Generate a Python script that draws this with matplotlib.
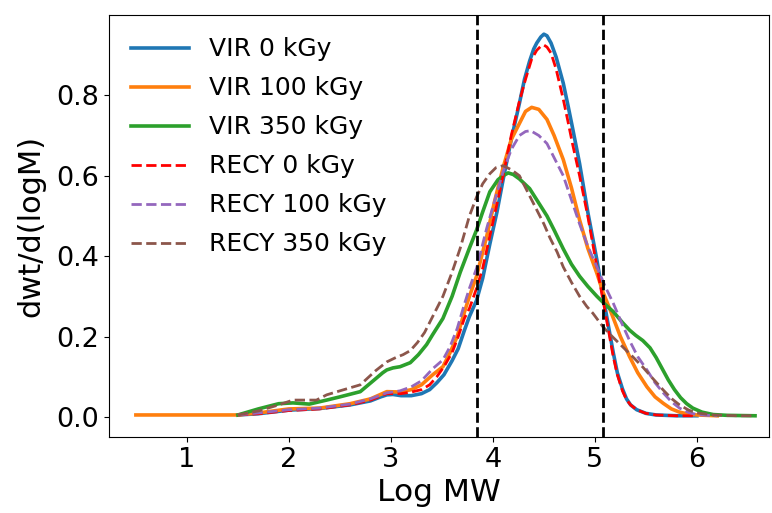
import matplotlib
matplotlib.use("Agg")
import matplotlib.pyplot as plt

# VIR 0 kGy
vir0_x = [1.5, 1.7, 2.0, 2.3, 2.6, 2.8, 2.9, 2.96, 3.02, 3.1, 3.2, 3.3, 3.38, 3.45, 3.52,
          3.6, 3.66, 3.72, 3.77, 3.84, 3.9, 3.97, 4.04, 4.1, 4.18, 4.26, 4.31, 4.36, 4.4,
          4.43, 4.47, 4.5, 4.53, 4.57, 4.62, 4.69, 4.74, 4.78, 4.85, 4.93, 5.02, 5.08,
          5.13, 5.18, 5.22, 5.27, 5.31, 5.35, 5.41, 5.5, 5.6, 5.8, 6.0]
vir0_y = [0.005, 0.008, 0.017, 0.021, 0.03, 0.04, 0.05, 0.055, 0.056, 0.053, 0.053,
          0.058, 0.068, 0.085, 0.105, 0.14, 0.17, 0.215, 0.25, 0.29, 0.345, 0.43, 0.51,
          0.59, 0.69, 0.78, 0.84, 0.885, 0.915, 0.93, 0.945, 0.952, 0.948, 0.93, 0.895,
          0.83, 0.77, 0.72, 0.63, 0.51, 0.39, 0.30, 0.23, 0.16, 0.11, 0.07, 0.045, 0.03,
          0.018, 0.009, 0.005, 0.003, 0.003]

# VIR 100 kGy
vir100_x = [0.5, 1.0, 1.5, 1.7, 2.0, 2.3, 2.6, 2.8, 2.96, 3.09, 3.2, 3.3, 3.41, 3.51,
            3.58, 3.65, 3.72, 3.77, 3.84, 3.94, 4.02, 4.1, 4.18, 4.26, 4.32, 4.38, 4.45,
            4.53, 4.6, 4.69, 4.77, 4.85, 4.93, 5.02, 5.08, 5.15, 5.25, 5.34, 5.42, 5.51,
            5.59, 5.67, 5.75, 5.83, 5.92, 6.0, 6.2]
vir100_y = [0.005, 0.005, 0.005, 0.01, 0.02, 0.022, 0.033, 0.045, 0.063, 0.062, 0.068,
            0.08, 0.105, 0.125, 0.16, 0.2, 0.26, 0.30, 0.35, 0.45, 0.54, 0.62, 0.69,
            0.73, 0.76, 0.77, 0.765, 0.74, 0.70, 0.64, 0.57, 0.49, 0.42, 0.357, 0.31,
            0.266, 0.2, 0.15, 0.11, 0.075, 0.05, 0.034, 0.02, 0.012, 0.007, 0.005, 0.003]

# VIR 350 kGy
vir350_x = [1.5, 1.7, 1.9, 2.04, 2.2, 2.37, 2.5, 2.7, 2.85, 2.92, 2.96, 3.02, 3.09, 3.19,
            3.27, 3.35, 3.41, 3.51, 3.6, 3.68, 3.77, 3.84, 3.9, 3.97, 4.05, 4.1, 4.15,
            4.2, 4.26, 4.36, 4.43, 4.53, 4.6, 4.69, 4.77, 4.85, 4.93, 5.02, 5.1, 5.18,
            5.27, 5.34, 5.4, 5.47, 5.54, 5.6, 5.66, 5.72, 5.78, 5.84, 5.9, 5.96, 6.05,
            6.16, 6.3, 6.57]
vir350_y = [0.005, 0.02, 0.033, 0.035, 0.032, 0.042, 0.05, 0.063, 0.095, 0.11, 0.117,
            0.122, 0.125, 0.135, 0.155, 0.18, 0.205, 0.245, 0.3, 0.36, 0.42, 0.465, 0.51,
            0.56, 0.59, 0.60, 0.607, 0.603, 0.592, 0.568, 0.54, 0.50, 0.465, 0.418, 0.38,
            0.35, 0.325, 0.30, 0.28, 0.262, 0.235, 0.216, 0.203, 0.19, 0.172, 0.148,
            0.12, 0.092, 0.068, 0.048, 0.033, 0.022, 0.012, 0.006, 0.004, 0.003]

# RECY 0 kGy
recy0_x = [1.5, 1.7, 2.0, 2.3, 2.6, 2.8, 2.96, 3.1, 3.2, 3.3, 3.38, 3.45, 3.52, 3.6,
           3.66, 3.72, 3.77, 3.84, 3.9, 3.97, 4.04, 4.1, 4.18, 4.26, 4.32, 4.38, 4.43,
           4.47, 4.5, 4.53, 4.57, 4.62, 4.69, 4.74, 4.78, 4.85, 4.93, 5.02, 5.08, 5.13,
           5.18, 5.22, 5.27, 5.31, 5.35, 5.41, 5.5, 5.6, 5.8, 6.0]
recy0_y = [0.005, 0.008, 0.016, 0.02, 0.03, 0.042, 0.058, 0.058, 0.062, 0.068, 0.08,
           0.1, 0.125, 0.16, 0.2, 0.245, 0.27, 0.32, 0.37, 0.45, 0.53, 0.60, 0.70, 0.785,
           0.84, 0.89, 0.912, 0.922, 0.925, 0.92, 0.905, 0.865, 0.79, 0.73, 0.68, 0.60,
           0.50, 0.373, 0.29, 0.22, 0.15, 0.105, 0.065, 0.043, 0.03, 0.018, 0.009,
           0.005, 0.003, 0.003]

# RECY 100 kGy
recy100_x = [1.5, 1.7, 2.0, 2.3, 2.6, 2.8, 2.96, 3.09, 3.2, 3.3, 3.41, 3.51, 3.58, 3.65,
             3.72, 3.77, 3.84, 3.94, 4.02, 4.1, 4.18, 4.26, 4.32, 4.37, 4.45, 4.53, 4.6,
             4.69, 4.77, 4.85, 4.93, 5.02, 5.1, 5.18, 5.26, 5.34, 5.42, 5.51, 5.59, 5.67,
             5.75, 5.83, 5.92, 6.0, 6.1, 6.2]
recy100_y = [0.005, 0.01, 0.018, 0.022, 0.032, 0.045, 0.06, 0.065, 0.075, 0.09, 0.12,
             0.142, 0.175, 0.22, 0.28, 0.32, 0.37, 0.47, 0.54, 0.61, 0.665, 0.70, 0.71,
             0.712, 0.70, 0.68, 0.645, 0.60, 0.54, 0.48, 0.425, 0.373, 0.325, 0.283,
             0.235, 0.19, 0.15, 0.117, 0.085, 0.06, 0.038, 0.022, 0.011, 0.006, 0.004,
             0.003]

# RECY 350 kGy
recy350_x = [1.5, 1.7, 1.9, 2.04, 2.27, 2.37, 2.5, 2.7, 2.85, 2.96, 3.05, 3.12, 3.19,
             3.26, 3.33, 3.41, 3.51, 3.6, 3.68, 3.77, 3.84, 3.9, 3.97, 4.03, 4.1, 4.18,
             4.26, 4.34, 4.43, 4.5, 4.56, 4.63, 4.69, 4.77, 4.85, 4.92, 4.98, 5.08, 5.17,
             5.27, 5.37, 5.47, 5.57, 5.67, 5.75, 5.83, 5.92, 6.0, 6.16, 6.4, 6.55]
recy350_y = [0.005, 0.015, 0.03, 0.042, 0.042, 0.055, 0.065, 0.08, 0.115, 0.137, 0.148,
             0.155, 0.165, 0.185, 0.21, 0.25, 0.30, 0.36, 0.42, 0.50, 0.547, 0.58, 0.605,
             0.62, 0.625, 0.615, 0.60, 0.56, 0.515, 0.48, 0.445, 0.41, 0.373, 0.335, 0.30,
             0.275, 0.258, 0.224, 0.20, 0.175, 0.15, 0.124, 0.095, 0.067, 0.046, 0.03,
             0.017, 0.01, 0.005, 0.003, 0.003]

# integration limits
limits = [3.84, 5.075]

fig, ax = plt.subplots(figsize=(7.72, 5.13), dpi=100)
fig.subplots_adjust(left=0.141, right=0.996, top=0.971, bottom=0.148)

ax.plot(vir0_x, vir0_y, color="#1f77b4", lw=2.6, label="VIR 0 kGy")
ax.plot(vir100_x, vir100_y, color="#ff7f0e", lw=2.6, label="VIR 100 kGy")
ax.plot(vir350_x, vir350_y, color="#2ca02c", lw=2.6, label="VIR 350 kGy")
ax.plot(recy0_x, recy0_y, color="red", lw=2.0, ls="--", label="RECY 0 kGy")
ax.plot(recy100_x, recy100_y, color="#9467bd", lw=2.0, ls="--", label="RECY 100 kGy")
ax.plot(recy350_x, recy350_y, color="#8c564b", lw=2.0, ls="--", label="RECY 350 kGy")

for xv in limits:
    ax.axvline(xv, color="black", lw=2.0, ls="--")

ax.set_xlim(0.235, 6.706)
ax.set_ylim(-0.05, 1.0)
ax.set_xticks([1, 2, 3, 4, 5, 6])
ax.set_yticks([0.0, 0.2, 0.4, 0.6, 0.8])
ax.tick_params(labelsize=19.5)
ax.set_xlabel("Log MW", fontsize=22.5)
ax.set_ylabel("dwt/d(logM)", fontsize=22, labelpad=8)

ax.legend(loc="upper left", frameon=False, fontsize=18, labelspacing=0.6,
          handlelength=2.3, handletextpad=0.8)

fig.savefig("out.png", dpi=100)
